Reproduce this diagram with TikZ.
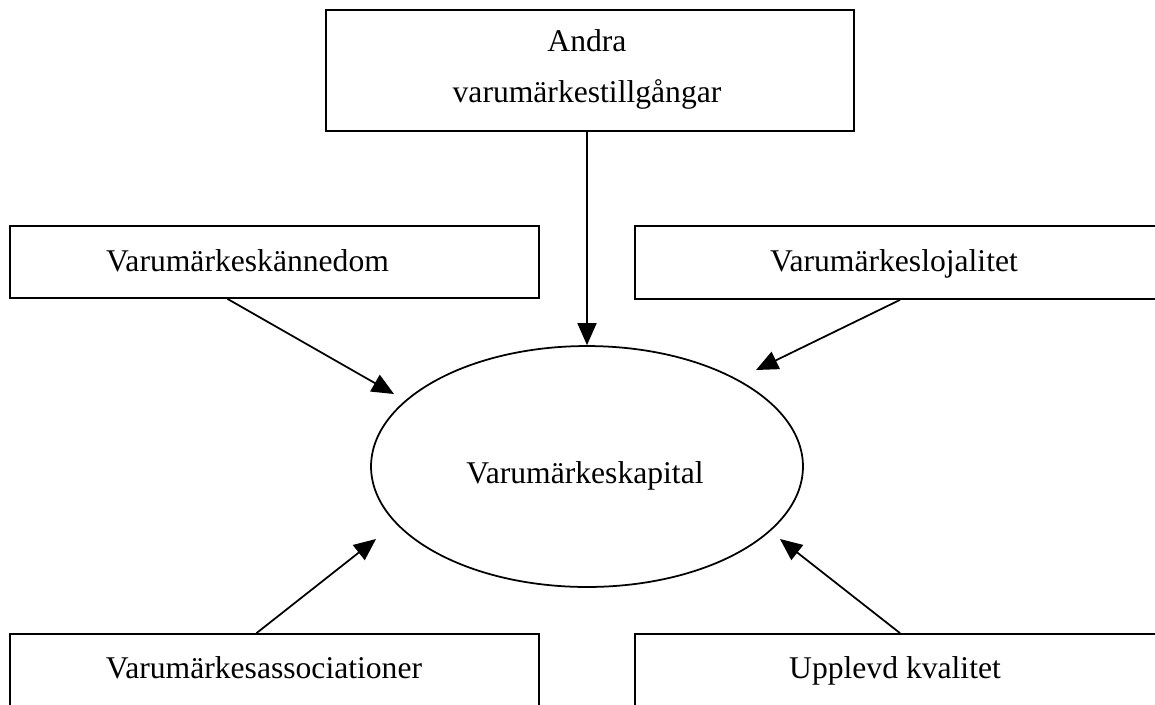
\documentclass[tikz,border=0pt]{standalone}
\usepackage{fontspec}
\setmainfont{Liberation Serif}
\usepackage{tikz}
\usetikzlibrary{fit,calc,shapes.geometric,arrows.meta}

\begin{document}
\begin{tikzpicture}[x=0.02cm, y=-0.02cm, line width=1pt,
	box/.style = {draw, rectangle, inner sep=0pt},
	lbl/.style = {inner sep=0pt, align=center, font=\fontsize{18}{29}\selectfont},
	arr/.style = {-{Triangle[length=0.44cm, width=0.38cm]}}]
	\useasboundingbox (0,0) rectangle (1155,704);
	% boxes
	\node[box, fit={(326,10) (854,131)}] (andra){};
	\node[box, fit={(10,226) (539,298)}] (kann){};
	\node[box, fit={(635,226) (1185,299)}] (loj){};
	\node[box, fit={(10,634) (539,760)}] (assoc){};
	\node[box, fit={(635,634) (1185,760)}] (kval){};
	\node[draw, ellipse, inner sep=0pt, minimum width=8.64cm, minimum height=4.82cm] (kapital) at (587,466.5){};
	% texts
	\node[lbl] (andratxt) at (587,69){Andra\\varumärkestillgångar};
	\node[lbl, anchor=base] (kanntxt) at (247.5,271){Varumärkeskännedom};
	\node[lbl, anchor=base] (lojtxt) at (894,271){Varumärkeslojalitet};
	\node[lbl, anchor=base] (kaptxt) at (585,483){Varumärkeskapital};
	\node[lbl, anchor=base] (assoctxt) at (264,678){Varumärkesassociationer};
	\node[lbl, anchor=base] (kvaltxt) at (895,678){Upplevd kvalitet};
	% arrow tips
	\coordinate (kanntip) at (394,394);
	\coordinate (lojtip) at (756,370);
	\coordinate (assoctip) at (376,539);
	\coordinate (kvaltip) at (780,539);
	\draw[arr] (kapital.north |- andra.south) -- (kapital.north);
	\draw[arr] ($(kann.south)+(-47,0)$) -- (kanntip);
	\draw[arr] ($(loj.south)+(-10,0)$) -- (lojtip);
	\draw[arr] ($(assoc.north)+(-18,0)$) -- (assoctip);
	\draw[arr] ($(kval.north)+(-10,0)$) -- (kvaltip);
\end{tikzpicture}
\end{document}
